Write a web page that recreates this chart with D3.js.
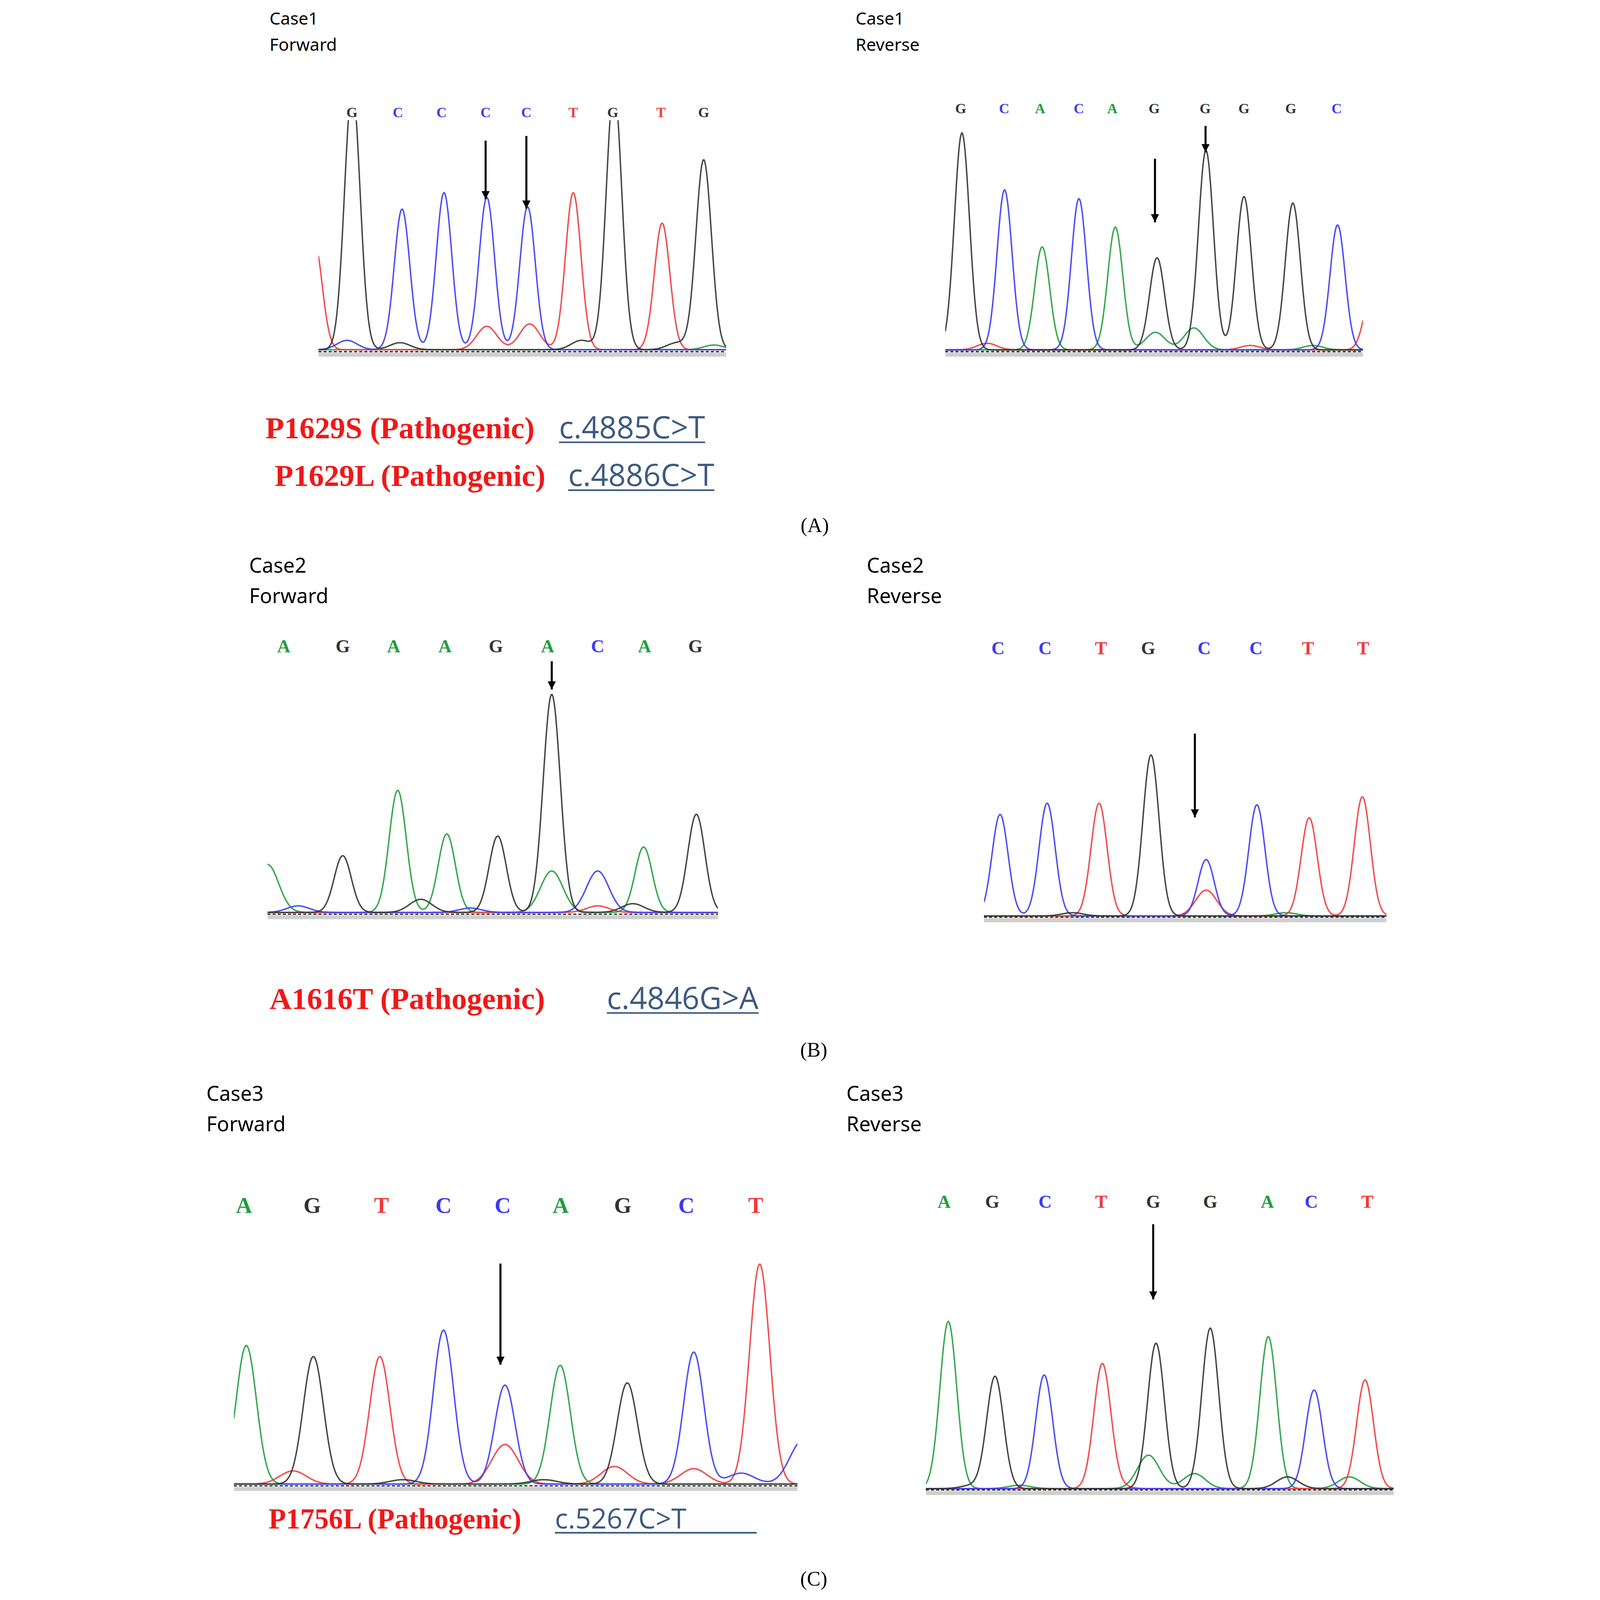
<!DOCTYPE html>
<html><head><meta charset="utf-8">
<script src="https://cdn.jsdelivr.net/npm/d3@7"></script>
<style>html,body{margin:0;padding:0;background:#fff;overflow:hidden}svg{display:block;width:100vw;height:100vh}</style></head>
<body><svg id="c"></svg>
<script>
// Base colours
const baseColors = {A:"#1f9e3a", C:"#3a3af5", G:"#333333", T:"#f03a3a"};
// Panel base calls
const calls_A_fwd = ["G","C","C","C","C","T","G","T","G"];
const calls_A_rev = ["G","C","A","C","A","G","G","G","G","C"];
const calls_B_fwd = ["A","G","A","A","G","A","C","A","G"];
const calls_B_rev = ["C","C","T","G","C","C","T","T"];
const calls_C_fwd = ["A","G","T","C","C","A","G","C","T"];
const calls_C_rev = ["A","G","C","T","G","G","A","C","T"];
// Label positions (0-100 scan units across panel)
const lbl_A_fwd = [8.2,19.5,30.2,41,51,62.5,72.2,84,94.5];
const lbl_A_rev = [3.7,14.1,22.7,32,40,50,62.2,71.5,82.7,93.7];
const lbl_B_fwd = [3.6,16.7,28,39.4,50.7,62.2,73.3,83.7,95];
const lbl_B_rev = [3.5,15.2,29.1,40.8,54.7,67.6,80.5,94.2];
const lbl_C_fwd = [1.8,13.9,26.2,37.2,47.7,58,69,80.3,92.6];
const lbl_C_rev = [3.9,14.2,25.5,37.5,48.6,60.8,73,82.4,94.4];
// Main peaks: [position, base, height 0-100]
const peaks_A_fwd = [[-1,"T",46],[8.3,"G",112],[20.5,"C",60],[30.8,"C",67],[41.3,"C",65],[51.3,"C",61],[62.5,"T",67],[72.5,"G",112],[84.3,"T",54],[94.5,"G",81]];
const peaks_A_rev = [[4,"G",99],[14.2,"C",73],[23.2,"A",47],[32,"C",69],[40.7,"A",56],[50.7,"G",42],[62.4,"G",91],[71.5,"G",70],[83.2,"G",67],[93.9,"C",57],[102,"T",25]];
const peaks_B_fwd = [[0,"A",22],[16.7,"G",26],[28.9,"A",56],[39.8,"A",36],[51.1,"G",35],[63.1,"G",100],[73.3,"C",19],[83.5,"A",30],[95.2,"G",45]];
const peaks_B_rev = [[4,"C",63],[15.7,"C",70],[28.6,"T",70],[41.5,"G",100],[55.2,"C",35],[67.8,"C",69],[80.8,"T",61],[94,"T",74]];
const peaks_C_fwd = [[2.2,"A",63],[14.1,"G",58],[25.9,"T",58],[37.2,"C",70],[48.1,"C",45],[57.9,"A",54],[69.8,"G",46],[81.6,"C",60],[93.3,"T",100],[101,"C",20]];
const peaks_C_rev = [[4.8,"A",100],[14.8,"G",67],[25.3,"C",68],[37.7,"T",73],[49.2,"G",87],[60.8,"G",96],[73.2,"A",91],[83,"C",59],[93.9,"T",65]];
// Secondary (minor) peaks: [position, base, height]
const minor_A_fwd = [[7,"C",4],[20,"G",3],[41.3,"T",10],[51.8,"T",11],[64.5,"G",4],[88,"G",3],[97,"A",2]];
const minor_A_rev = [[10,"T",3],[50.3,"A",8],[59.5,"A",10],[73,"T",2],[88,"A",2]];
const minor_B_fwd = [[6.8,"C",3],[34,"G",6],[63.1,"A",19],[73.3,"T",3],[81.1,"G",4],[45,"C",2]];
const minor_B_rev = [[55.2,"T",16],[22,"G",2],[75,"A",2]];
const minor_C_fwd = [[10.5,"T",6],[48.1,"T",18],[67.5,"T",8],[81.6,"T",7],[90,"C",5],[30,"G",2],[55,"G",2]];
const minor_C_rev = [[47.6,"A",20],[57.4,"A",9],[77.3,"G",7],[90.5,"A",7],[10,"G",2],[40,"T",3],[20,"A",2]];
// Arrows: [position, startValue, endValue]
const arrows_A_fwd = [[41,90,65],[51,92,61]];
const arrows_A_rev = [[50.2,88,59],[62.3,103,91]];
const arrows_B_fwd = [[63.1,116,103]];
const arrows_B_rev = [[52.4,114,62]];
const arrows_C_fwd = [[47.3,101,55]];
const arrows_C_rev = [[48.6,159,114]];
// Titles and mutation texts
const titles = [["Case1","Forward"],["Case1","Reverse"],["Case2","Forward"],["Case2","Reverse"],["Case3","Forward"],["Case3","Reverse"]];
const mutations = [["P1629S (Pathogenic)","c.4885C>T"],["P1629L (Pathogenic)","c.4886C>T"],["A1616T (Pathogenic)","c.4846G>A"],["P1756L (Pathogenic)","c.5267C>T"]];
const captions = ["(A)","(B)","(C)"];

const W=1175,H=1570;
const svg=d3.select("#c").attr("viewBox",`0 0 ${W} ${H}`).attr("preserveAspectRatio","xMidYMin meet");

const panels=[
 {calls:calls_A_fwd,lbl:lbl_A_fwd,peaks:peaks_A_fwd,minor:minor_A_fwd,arrows:arrows_A_fwd,x0:115,x1:515,base:345,top:115,clipTop:118,ly:115,fs:14,sig:1.9,title:titles[0],tx:67,ty:24,tfs:17},
 {calls:calls_A_rev,lbl:lbl_A_rev,peaks:peaks_A_rev,minor:minor_A_rev,arrows:arrows_A_rev,x0:730,x1:1140,base:345,top:130,clipTop:118,ly:111,fs:14,sig:1.8,title:titles[1],tx:642,ty:24,tfs:17},
 {calls:calls_B_fwd,lbl:lbl_B_fwd,peaks:peaks_B_fwd,minor:minor_B_fwd,arrows:arrows_B_fwd,x0:65,x1:507,base:897,top:683,clipTop:640,ly:640,fs:18,sig:1.9,title:titles[2],tx:47,ty:562,tfs:20},
 {calls:calls_B_rev,lbl:lbl_B_rev,peaks:peaks_B_rev,minor:minor_B_rev,arrows:arrows_B_rev,x0:768,x1:1163,base:900,top:742,clipTop:640,ly:642,fs:18,sig:2.0,title:titles[3],tx:653,ty:562,tfs:20},
 {calls:calls_C_fwd,lbl:lbl_C_fwd,peaks:peaks_C_fwd,minor:minor_C_fwd,arrows:arrows_C_fwd,x0:32,x1:585,base:1458,top:1242,clipTop:1200,ly:1190,fs:22,sig:1.8,title:titles[4],tx:5,ty:1080,tfs:20},
 {calls:calls_C_rev,lbl:lbl_C_rev,peaks:peaks_C_rev,minor:minor_C_rev,arrows:arrows_C_rev,x0:711,x1:1170,base:1462,top:1298,clipTop:1200,ly:1185,fs:18,sig:1.8,title:titles[5],tx:633,ty:1080,tfs:20}
];

const defs=svg.append("defs");
defs.append("marker").attr("id","ah").attr("viewBox","0 0 10 10").attr("refX",10).attr("refY",5)
 .attr("markerWidth",4).attr("markerHeight",4).attr("orient","auto").attr("markerUnits","strokeWidth")
 .append("path").attr("d","M0,0L10,5L0,10Z").attr("fill","#000");

panels.forEach((p,i)=>{
  const x=d3.scaleLinear().domain([0,100]).range([p.x0,p.x1]);
  const y=d3.scaleLinear().domain([0,100]).range([p.base,p.top]);
  const g=svg.append("g");
  defs.append("clipPath").attr("id","cp"+i).append("rect").attr("x",p.x0).attr("y",p.clipTop).attr("width",p.x1-p.x0).attr("height",p.base-p.clipTop+4);
  g.append("text").attr("x",p.tx).attr("y",p.ty).attr("font-family","Noto Sans, sans-serif").attr("font-size",p.tfs).text(p.title[0]);
  g.append("text").attr("x",p.tx).attr("y",p.ty+(p.tfs>18?30:26)).attr("font-family","Noto Sans, sans-serif").attr("font-size",p.tfs).text(p.title[1]);
  g.selectAll("text.b").data(p.calls).join("text").attr("class","b")
   .attr("x",(d,j)=>x(p.lbl[j])).attr("y",p.ly).attr("text-anchor","middle")
   .attr("font-family","Liberation Serif, serif").attr("font-weight","bold").attr("font-size",p.fs)
   .attr("fill",d=>baseColors[d]).text(d=>d);
  const all=p.peaks.concat(p.minor);
  const pts=d3.range(0,100.01,0.2);
  const line=d3.line().x(d=>x(d[0])).y(d=>y(d[1]));
  const pc=g.append("g").attr("clip-path",`url(#cp${i})`);
  g.append("rect").attr("x",p.x0).attr("y",p.base+1).attr("width",p.x1-p.x0).attr("height",4).attr("fill","#cfcfcf");
  ["A","T","C","G"].forEach(b=>{
    const pk=all.filter(d=>d[1]===b);
    const data=pts.map(t=>{let v=0.8;pk.forEach(d=>{const s=d[2]<25?p.sig*1.3:p.sig;v+=d[2]*Math.exp(-Math.pow(t-d[0],2)/(2*s*s));});return [t,v];});
    pc.append("path").attr("d",line(data)).attr("fill","none").attr("stroke",baseColors[b]).attr("stroke-width",1.4).attr("opacity",0.9);
  });
  g.append("line").attr("x1",p.x0).attr("x2",p.x1).attr("y1",p.base).attr("y2",p.base).attr("stroke","#222").attr("stroke-width",1.2).attr("stroke-dasharray","3,2");
  g.selectAll("line.ar").data(p.arrows).join("line").attr("class","ar")
   .attr("x1",d=>x(d[0])).attr("x2",d=>x(d[0])).attr("y1",d=>y(d[1])).attr("y2",d=>y(d[2]))
   .attr("stroke","#000").attr("stroke-width",2).attr("marker-end","url(#ah)");
});

const mpos=[[63,430,351],[72,477,360],[67,990,398],[66,1500,347]];
mutations.forEach((m,i)=>{
  const [x0,yb,xc]=mpos[i];
  svg.append("text").attr("x",x0).attr("y",yb).attr("font-family","Liberation Serif, serif").attr("font-weight","bold")
    .attr("font-size",i===3?28:30).attr("fill","#f01818").text(m[0]);
  const t=svg.append("text").attr("x",xc).attr("y",yb).attr("font-family","Open Sans, sans-serif")
    .attr("font-size",i===3?27:30).attr("fill","#3d5a80").text(m[1]);
  const w=t.node().getComputedTextLength();
  svg.append("line").attr("x1",xc).attr("x2",xc+(i===3?198:w)).attr("y1",yb+4).attr("y2",yb+4).attr("stroke","#3d5a80").attr("stroke-width",1.6);
});
const cpos=[[602,522],[601,1037],[601,1556]];
captions.forEach((c,i)=>svg.append("text").attr("x",cpos[i][0]).attr("y",cpos[i][1]).attr("text-anchor","middle")
  .attr("font-family","Liberation Serif, serif").attr("font-size",20).text(c));
</script></body></html>
